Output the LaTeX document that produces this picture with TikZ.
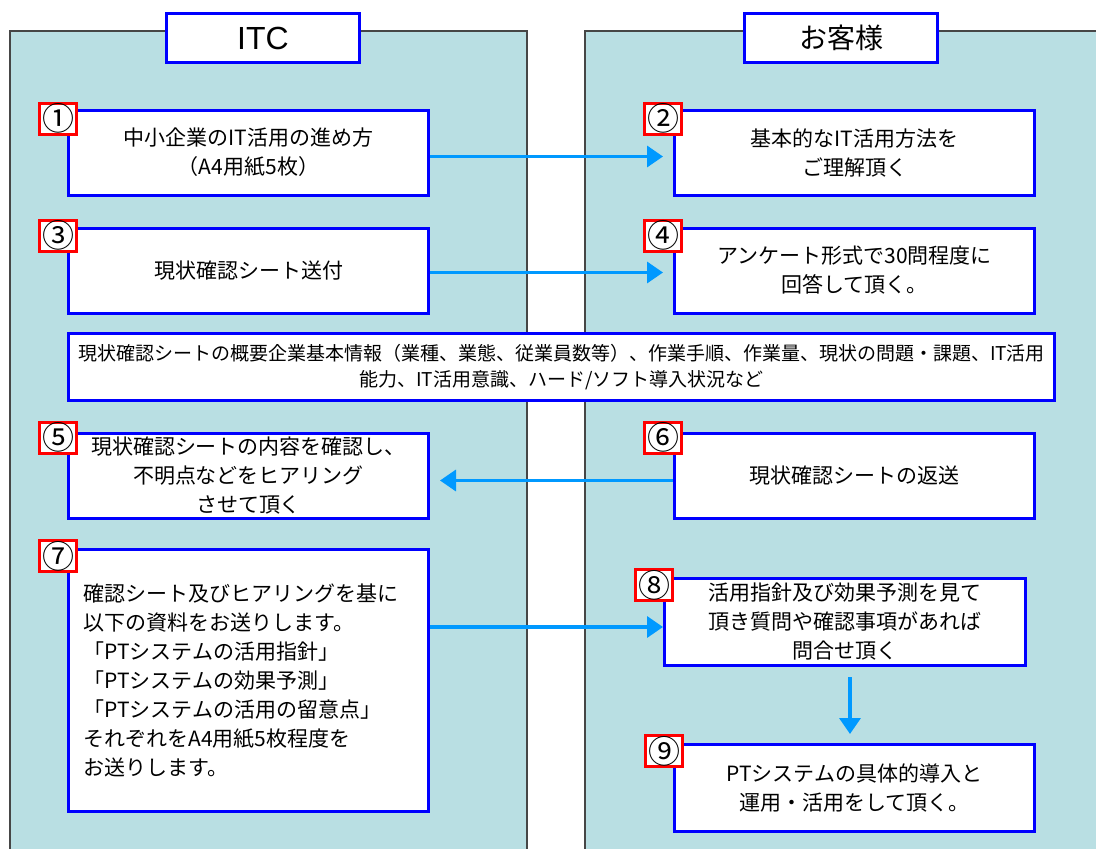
\documentclass[tikz,border=0pt]{standalone}
\usepackage{fontspec}
\setmainfont{Noto Sans CJK JP}
\newfontfamily\latinfont{Liberation Sans}
\usetikzlibrary{positioning,arrows.meta}
\definecolor{panelfill}{RGB}{185,223,227}
\definecolor{panelline}{RGB}{70,70,70}
\definecolor{boxblue}{RGB}{0,0,255}
\definecolor{labelred}{RGB}{255,0,0}
\definecolor{flowblue}{RGB}{0,153,255}
\tikzset{
  panel/.style={fill=panelfill,draw=panelline,line width=1.2pt},
  head/.style={draw=boxblue,fill=white,line width=3pt,minimum width=193pt,minimum height=49pt,inner sep=0pt},
  stepbox/.style={draw=boxblue,fill=white,line width=3pt,minimum width=360pt,minimum height=85pt,
    align=center,inner sep=0pt,font=\fontsize{21}{29}\selectfont},
  numbox/.style={draw=labelred,fill=white,line width=3pt,minimum width=37pt,minimum height=31pt,
    inner sep=0pt,font=\fontsize{32}{32}\selectfont},
  flow/.style={draw=flowblue,line width=3.5pt,-{Triangle[length=16pt,width=21pt]}}
}

\begin{document}
\begin{tikzpicture}[x=1pt,y=1pt,node distance=243pt]
  \useasboundingbox (0,0) rectangle (1096,-849);
  \clip (0,0) rectangle (1096,-849);
  % two lanes
  \path[panel] (10,-31) rectangle (527,-870);
  \path[panel] (585,-31) rectangle (1120,-870);
  \node[head,font=\latinfont\fontsize{32}{32}\selectfont] (h_itc) at (263,-38) {ITC};
  \node[head,font=\fontsize{28}{28}\selectfont] (h_cust) at (841,-38) {お客様};
  % steps
  \node[stepbox] (s_1) at (248.5,-152.5) {中小企業のIT活用の進め方\\（A4用紙5枚）};
  \node[stepbox] (s_2) [right=of s_1] {基本的なIT活用方法を\\ご理解頂く};
  \node[stepbox] (s_3) at (248.5,-270.5) {現状確認シート送付};
  \node[stepbox] (s_4) [right=of s_3] {アンケート形式で30問程度に\\回答して頂く。};
  \node[stepbox,minimum width=986pt,minimum height=67pt,font=\fontsize{19}{26}\selectfont] (memo) at (561.5,-367)
    {現状確認シートの概要企業基本情報（業種、業態、従業員数等）、作業手順、作業量、現状の問題・課題、IT活用\\
     能力、IT活用意識、ハード/ソフト導入状況など};
  \node[stepbox] (s_5) at (248.5,-475.5) {現状確認シートの内容を確認し、\\不明点などをヒアリング\\させて頂く};
  \node[stepbox] (s_6) [right=of s_5] {現状確認シートの返送};
  \node[stepbox,minimum height=262pt,text width=330pt,align=left] (s_7) at (248.5,-680.5)
    {確認シート及びヒアリングを基に\\以下の資料をお送りします。\\「PTシステムの活用指針」\\「PTシステムの効果予測」\\
     「PTシステムの活用の留意点」\\それぞれをA4用紙5枚程度を\\お送りします。};
  \node[stepbox,minimum width=361pt,minimum height=87pt] (s_8) at (845,-622)
    {活用指針及び効果予測を見て\\頂き質問や確認事項があれば\\問合せ頂く};
  \node[stepbox,minimum height=87pt] (s_9) at (854.5,-788) {PTシステムの具体的導入と\\運用・活用をして頂く。};
  % numbers
  \node[numbox] (n_1) at ([shift={(-9,-10)}]s_1.north west) {①};
  \node[numbox] (n_2) at ([shift={(-10,-10)}]s_2.north west) {②};
  \node[numbox] (n_3) at ([shift={(-9,-9)}]s_3.north west) {③};
  \node[numbox] (n_4) at ([shift={(-10,-9)}]s_4.north west) {④};
  \node[numbox] (n_5) at ([shift={(-9,-6)}]s_5.north west) {⑤};
  \node[numbox] (n_6) at ([shift={(-10,-6)}]s_6.north west) {⑥};
  \node[numbox] (n_7) at ([shift={(-9,-8)}]s_7.north west) {⑦};
  \node[numbox] (n_8) at ([shift={(-9,-8)}]s_8.north west) {⑧};
  \node[numbox] (n_9) at ([shift={(-9,-8)}]s_9.north west) {⑨};
  % flow
  \draw[flow,shorten >=10pt] ([yshift=-4pt]s_1.east) -- ([yshift=-4pt]s_2.west);
  \draw[flow,shorten >=10pt] ([yshift=-2pt]s_3.east) -- ([yshift=-2pt]s_4.west);
  \draw[flow,shorten >=10pt] ([yshift=-5pt]s_6.west) -- ([yshift=-5pt]s_5.east);
  \draw[flow] ([yshift=-5pt]s_8.west -| s_7.east) -- ([yshift=-5pt]s_8.west);
  \draw[flow,shorten >=9pt] ([xshift=5pt,yshift=-10pt]s_8.south) -- ([xshift=5pt]s_8.south |- s_9.north);
\end{tikzpicture}
\end{document}
